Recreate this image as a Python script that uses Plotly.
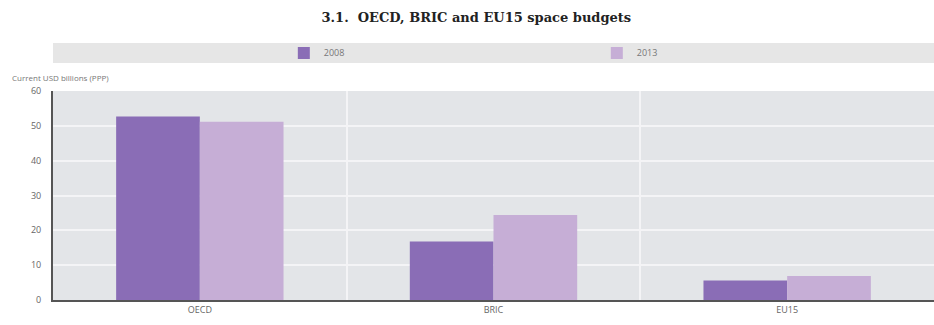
import plotly.graph_objects as go

categories = ["OECD", "BRIC", "EU15"]
values_2008 = [52.7, 16.8, 5.6]
values_2013 = [51.2, 24.4, 6.9]
series_names = ["2008", "2013"]
y_ticks = [0, 10, 20, 30, 40, 50, 60]

fig = go.Figure()
fig.add_trace(go.Bar(x=categories, y=values_2008, name=series_names[0],
                     marker=dict(color="#8a6db6", line=dict(width=0))))
fig.add_trace(go.Bar(x=categories, y=values_2013, name=series_names[1],
                     marker=dict(color="#c6aed6", line=dict(width=0))))

fig.update_layout(
    width=934, height=325,
    margin=dict(l=53, r=0, t=91, b=25),
    paper_bgcolor="white",
    plot_bgcolor="#e3e5e8",
    barmode="group",
    bargap=0.43,
    bargroupgap=0,
    font=dict(family="Open Sans", size=9, color="#666666"),
    title=dict(text="<b>3.1.  OECD, BRIC and EU15 space budgets</b>",
               x=0.51, xanchor="center", y=1 - 17 / 325, yanchor="middle",
               yref="container",
               font=dict(family="DejaVu Serif", size=13, color="#222222")),
    legend=dict(orientation="h", x=0.262, xanchor="left", y=1.182, yanchor="middle",
                bgcolor="rgba(0,0,0,0)", entrywidth=268, entrywidthmode="pixels",
                font=dict(size=9, color="#777777"), traceorder="normal"),
    xaxis=dict(showgrid=True, gridcolor="#f4f4f6", gridwidth=2,
               tickson="boundaries", ticks="", showline=True, linecolor="#555555",
               linewidth=2, range=[-0.5, 2.5], tickfont=dict(size=9, color="#666666")),
    yaxis=dict(range=[0, 60], tickvals=y_ticks, showgrid=True, gridcolor="#f4f4f6",
               gridwidth=2, showline=True, linecolor="#555555", linewidth=2,
               zeroline=False, ticks="", ticklabelstandoff=8,
               tickfont=dict(size=9, color="#666666")),
    shapes=[dict(type="rect", xref="paper", yref="paper", x0=0, x1=1,
                 y0=(300 - 63) / 209, y1=(300 - 43) / 209,
                 fillcolor="#e6e6e6", line=dict(width=0), layer="below")],
    annotations=[dict(text="Current USD billions (PPP)", xref="paper", yref="paper",
                      x=-53 / 881 + 10 / 881, y=(300 - 77) / 209, xanchor="left",
                      yanchor="middle", showarrow=False,
                      font=dict(size=8, color="#777777"))],
)

fig.write_html("out.html")
